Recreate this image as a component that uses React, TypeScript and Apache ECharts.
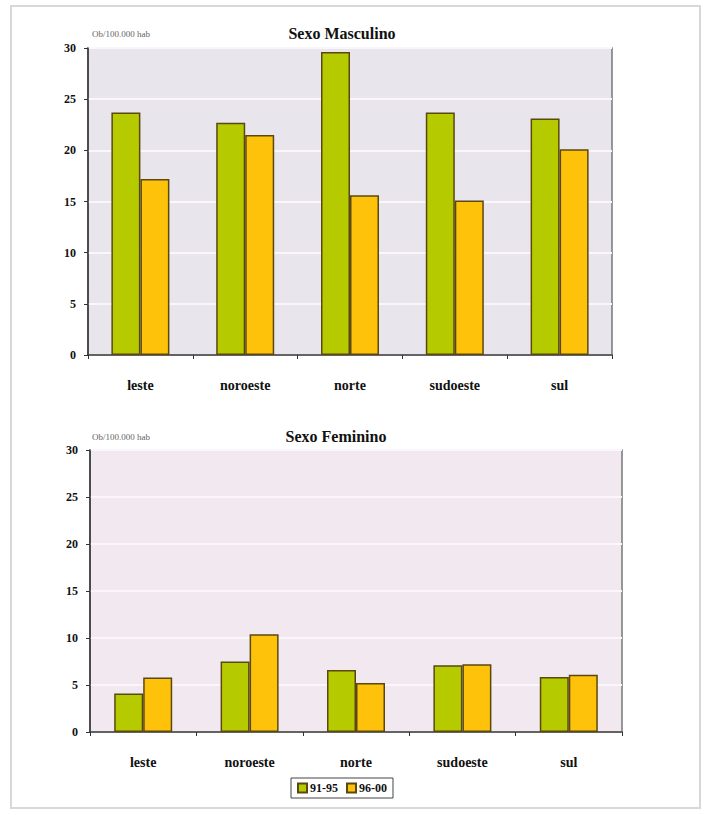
import React, { useEffect, useRef } from "react";
import * as echarts from "echarts";

const categories = ["leste", "noroeste", "norte", "sudoeste", "sul"];
const seriesNames = ["91-95", "96-00"];
const masc9195 = [23.7, 22.7, 29.6, 23.7, 23.1];
const masc9600 = [17.2, 21.5, 15.6, 15.1, 20.1];
const fem9195 = [4.1, 7.5, 6.6, 7.1, 5.85];
const fem9600 = [5.8, 10.4, 5.2, 7.2, 6.1];
const yTicks = [0, 5, 10, 15, 20, 25, 30];
const titles = ["Sexo Masculino", "Sexo Feminino"];
const unitLabel = "Ob/100.000 hab";

const GREEN = "#b6ca00";
const ORANGE = "#ffc20a";
const BORDER = "#5a4810";
const SERIF = "'Liberation Serif', 'DejaVu Serif', serif";

export default function App() {
  const ref = useRef<HTMLDivElement>(null);
  useEffect(() => {
    if (!ref.current) return;
    const chart = echarts.init(ref.current, undefined, { renderer: "svg" });
    const grids = [
      { left: 88, top: 48, width: 524, height: 307, bg: "#e9e5ec" },
      { left: 90, top: 450, width: 532, height: 282, bg: "#f2e8ef" },
    ];
    const xAxis = grids.map((_, i) => ({
      type: "category",
      gridIndex: i,
      data: categories,
      axisLine: { lineStyle: { color: "#333", width: 1.5 } },
      axisTick: { show: true, length: 4, lineStyle: { color: "#333" } },
      axisLabel: {
        fontFamily: SERIF,
        fontWeight: "bold",
        fontSize: 14,
        color: "#111",
        margin: 23,
      },
    }));
    const yAxis = grids.map((_, i) => ({
      type: "value",
      gridIndex: i,
      min: 0,
      max: 30,
      interval: 5,
      axisLine: { show: true, lineStyle: { color: "#333", width: 1.5 } },
      axisTick: { show: true, length: 4, lineStyle: { color: "#333" } },
      axisLabel: {
        fontFamily: SERIF,
        fontWeight: "bold",
        fontSize: 12,
        color: "#111",
        margin: 12,
        formatter: (v: number) => (yTicks.includes(v) ? String(v) : ""),
      },
      splitLine: { show: true, lineStyle: { color: "#faf6f9", width: 2 } },
    }));
    const mk = (name: string, data: number[], color: string, idx: number) => ({
      name,
      type: "bar",
      xAxisIndex: idx,
      yAxisIndex: idx,
      data,
      barWidth: 29,
      barGap: "0%",
      itemStyle: { color, borderColor: BORDER, borderWidth: 1.5 },
    });
    chart.setOption({
      animation: false,
      backgroundColor: "#ffffff",
      grid: grids.map((g) => ({
        left: g.left,
        top: g.top,
        width: g.width,
        height: g.height,
        show: true,
        backgroundColor: g.bg,
        borderColor: "#777",
        borderWidth: 1.5,
      })),
      xAxis,
      yAxis,
      legend: {
        data: seriesNames.map((n) => ({ name: n })),
        left: 291,
        top: 778,
        orient: "horizontal",
        icon: "rect",
        itemWidth: 9,
        itemHeight: 9,
        itemGap: 8,
        padding: [4, 6],
        borderColor: "#444",
        borderWidth: 1,
        backgroundColor: "#fff",
        textStyle: { fontFamily: SERIF, fontWeight: "bold", fontSize: 12, color: "#111", padding: [0, 0, 0, -2] },
      },
      graphic: [
        {
          type: "rect",
          shape: { x: 11, y: 6, width: 689, height: 802 },
          style: { fill: "none", stroke: "#d8d8d8", lineWidth: 2 },
          silent: true,
        },
        {
          type: "text",
          x: 342,
          y: 33,
          style: {
            text: titles[0],
            fontFamily: SERIF,
            fontWeight: "bold",
            fontSize: 16,
            fill: "#111",
            align: "center",
            verticalAlign: "middle",
          },
        },
        {
          type: "text",
          x: 336,
          y: 436,
          style: {
            text: titles[1],
            fontFamily: SERIF,
            fontWeight: "bold",
            fontSize: 16,
            fill: "#111",
            align: "center",
            verticalAlign: "middle",
          },
        },
        {
          type: "text",
          x: 92,
          y: 34,
          style: {
            text: unitLabel,
            fontFamily: SERIF,
            fontSize: 9,
            fill: "#666",
            align: "left",
            verticalAlign: "middle",
          },
        },
        {
          type: "text",
          x: 92,
          y: 437,
          style: {
            text: unitLabel,
            fontFamily: SERIF,
            fontSize: 9,
            fill: "#666",
            align: "left",
            verticalAlign: "middle",
          },
        },
      ],
      series: [
        mk(seriesNames[0], masc9195, GREEN, 0),
        mk(seriesNames[1], masc9600, ORANGE, 0),
        mk(seriesNames[0], fem9195, GREEN, 1),
        mk(seriesNames[1], fem9600, ORANGE, 1),
      ],
    });
    return () => chart.dispose();
  }, []);
  return (
    <div
      ref={ref}
      style={{ position: "fixed", left: 0, top: 0, width: 708, height: 815 }}
    />
  );
}
